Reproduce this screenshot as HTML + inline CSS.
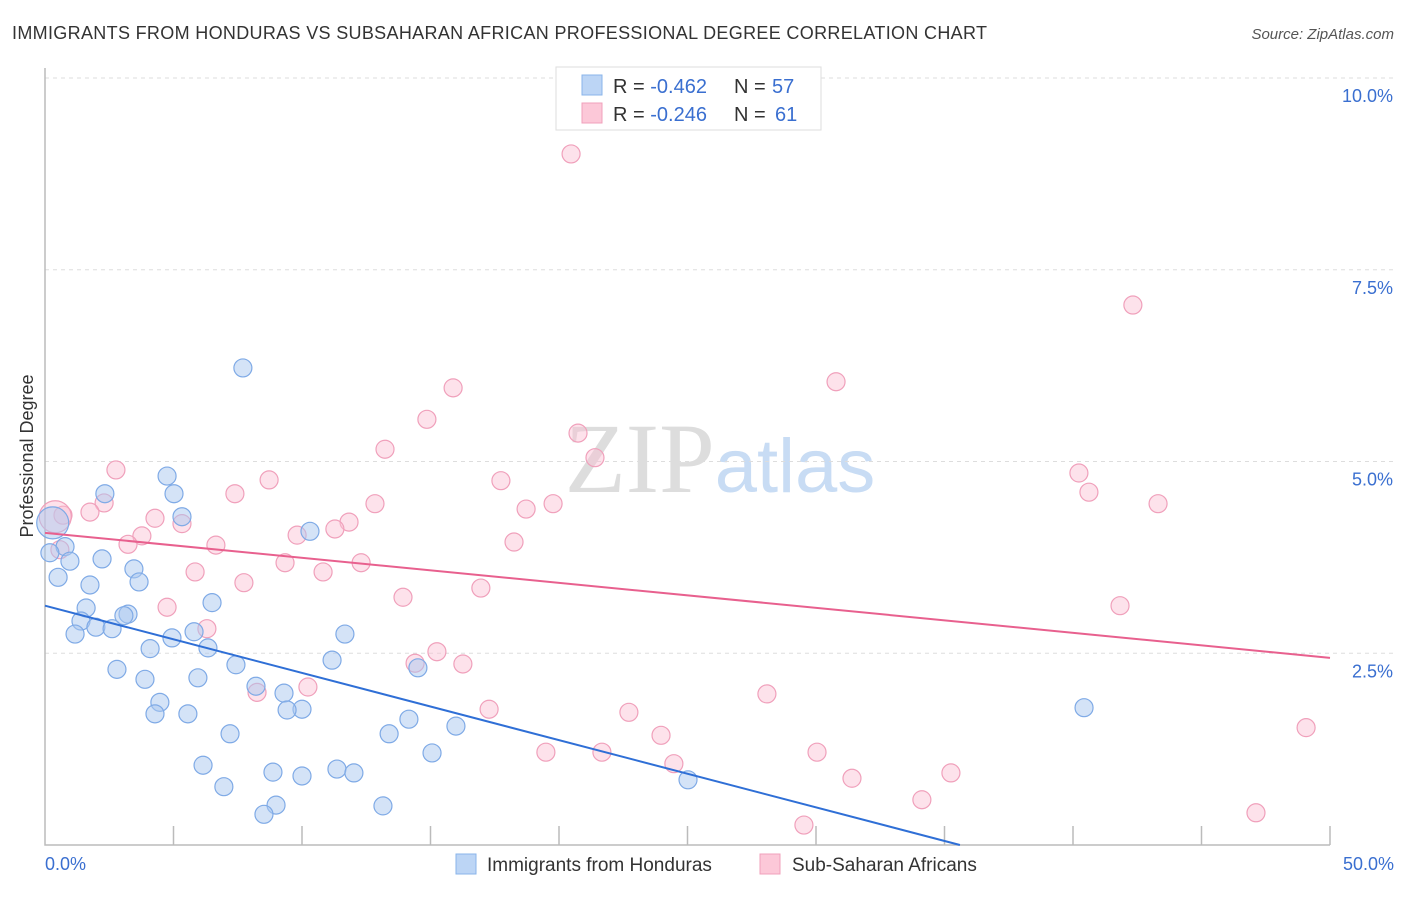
<!DOCTYPE html>
<html><head><meta charset="utf-8"><style>
body{margin:0;background:#fff;font-family:"Liberation Sans",sans-serif;}
svg text{font-family:"Liberation Sans",sans-serif;}
</style></head><body>
<svg id="chart" width="1406" height="892" xmlns="http://www.w3.org/2000/svg">
<text x="12" y="39" font-size="18" fill="#333" textLength="975">IMMIGRANTS FROM HONDURAS VS SUBSAHARAN AFRICAN PROFESSIONAL DEGREE CORRELATION CHART</text>
<text x="1394" y="39" font-size="15" fill="#555" font-style="italic" text-anchor="end">Source: ZipAtlas.com</text>
<text transform="translate(33,456) rotate(-90)" font-size="18" fill="#333" text-anchor="middle">Professional Degree</text>
<text x="720" y="492" font-size="100" text-anchor="middle"><tspan fill="#ddd" font-family="Liberation Serif">ZIP</tspan><tspan fill="#c8dcf4" font-size="76">atlas</tspan></text>
<g id="grid"></g><g id="axes"></g><g id="pink"></g><g id="blue"></g><g id="trends"></g>
<g>
<rect x="556" y="67" width="265" height="63" fill="#fff" stroke="#ddd"/>
<rect x="582" y="75" width="20" height="20" fill="#bcd5f5" stroke="#8ab4ea"/>
<rect x="582" y="103" width="20" height="20" fill="#fcc8d8" stroke="#f0a0bb"/>
<text x="613" y="93" font-size="20" fill="#333">R = <tspan fill="#3a6fd0">-0.462</tspan></text>
<text x="734" y="93" font-size="20" fill="#333">N = </text>
<text x="772" y="93" font-size="20" fill="#3a6fd0">57</text>
<text x="613" y="121" font-size="20" fill="#333">R = <tspan fill="#3a6fd0">-0.246</tspan></text>
<text x="734" y="121" font-size="20" fill="#333">N = </text>
<text x="775" y="121" font-size="20" fill="#3a6fd0">61</text>
</g>
<g>
<rect x="456" y="854" width="20" height="20" fill="#bcd5f5" stroke="#8ab4ea"/>
<text x="487" y="871" font-size="19" fill="#333">Immigrants from Honduras</text>
<rect x="760" y="854" width="20" height="20" fill="#fcc8d8" stroke="#f0a0bb"/>
<text x="792" y="871" font-size="19" fill="#333">Sub-Saharan Africans</text>
</g>
</svg>
<script>
const yTicks=[2.5,5,7.5,10];
const yTickLabels=["2.5%","5.0%","7.5%","10.0%"];
const xTickVals=[0,5,10,15,20,25,30,35,40,45,50];
const blueX=[7.70,4.75,2.33,5.02,5.33,10.31,0.78,0.19,0.97,2.22,3.46,3.66,1.75,0.51,6.50,1.60,3.23,3.07,1.40,1.98,2.61,1.17,5.80,11.67,4.94,6.34,4.09,11.17,7.43,14.51,2.80,3.89,5.95,8.21,9.30,4.47,10.00,9.42,4.28,5.56,14.16,15.99,7.20,13.39,15.06,6.15,11.36,8.87,12.02,10.00,25.02,6.96,8.99,13.15,8.52,40.43,0.30];
const blueY=[6.22,4.81,4.58,4.58,4.28,4.09,3.89,3.81,3.70,3.73,3.60,3.43,3.39,3.49,3.16,3.09,3.01,2.99,2.92,2.84,2.82,2.75,2.78,2.75,2.70,2.57,2.56,2.41,2.35,2.31,2.29,2.16,2.18,2.07,1.98,1.86,1.77,1.76,1.71,1.71,1.64,1.55,1.45,1.45,1.20,1.04,0.99,0.95,0.94,0.90,0.85,0.76,0.52,0.51,0.40,1.79,4.20];
const pinkX=[20.47,42.33,30.78,15.88,14.86,20.74,13.23,21.40,2.76,40.23,8.72,17.74,7.39,2.30,40.62,12.84,19.77,43.31,18.72,1.75,0.70,4.28,11.83,5.33,11.28,9.81,3.77,18.25,3.23,6.65,12.30,9.34,10.82,5.84,7.74,16.96,13.93,4.75,41.83,6.30,15.25,14.40,16.26,10.23,8.25,28.09,17.28,22.72,23.97,49.07,19.49,21.67,30.04,24.47,35.25,31.40,34.12,47.12,29.53,0.58,0.40];
const pinkY=[9.01,7.04,6.04,5.96,5.55,5.37,5.16,5.05,4.89,4.85,4.76,4.75,4.58,4.46,4.60,4.45,4.45,4.45,4.38,4.34,4.30,4.26,4.21,4.19,4.12,4.04,4.03,3.95,3.92,3.91,3.68,3.68,3.56,3.56,3.42,3.35,3.23,3.10,3.12,2.82,2.52,2.37,2.36,2.06,1.99,1.97,1.77,1.73,1.43,1.53,1.21,1.21,1.21,1.06,0.94,0.87,0.59,0.42,0.26,3.85,4.28];
const blueTrend=[[0,3.12],[35.6,0]];
const pinkTrend=[[0,4.07],[50,2.44]];
const NS="http://www.w3.org/2000/svg";
const xs=v=>45+v*25.7, ys=v=>845-v*76.7;
function mk(p,t,a){const e=document.createElementNS(NS,t);for(const k in a)e.setAttribute(k,a[k]);document.getElementById(p).appendChild(e);return e;}
yTicks.forEach((v,i)=>{
 const l=mk('grid','line',{x1:45,x2:1394,y1:ys(v),y2:ys(v),stroke:'#ddd','stroke-dasharray':'4,4'});
 
 
 const t=mk('grid','text',{x:1393,y:ys(v)+24,'font-size':18,fill:'#3a6fd0','text-anchor':'end'});t.textContent=yTickLabels[i];
 
 
});
const ax=mk('axes','path',{d:'M45,68V845H1330',fill:'none',stroke:'#bbb','stroke-width':1.5});


xTickVals.forEach(v=>{if(v===0)return;const t=mk('axes','line',{x1:xs(v),x2:xs(v),y1:826,y2:845,stroke:'#bbb','stroke-width':1.5});
 
 });
const xl0=mk('axes','text',{x:45,y:870,'font-size':18,fill:'#3a6fd0'});xl0.textContent='0.0%';


const xl1=mk('axes','text',{x:1394,y:870,'font-size':18,fill:'#3a6fd0','text-anchor':'end'});xl1.textContent='50.0%';


function pts(g,X,Y,fill,stroke,name){X.forEach((x,i)=>{const big=i===X.length-1;const c=mk(g,'circle',{cx:xs(x),cy:ys(Y[i]),r:big?16:9,fill:fill,stroke:stroke,'stroke-width':1.2});
 
 });}
pts('pink',pinkX,pinkY,'rgba(250,190,210,0.45)','#f0a0bb','point-subsaharan');
pts('blue',blueX,blueY,'rgba(170,200,240,0.5)','#7faae6','point-honduras');
const bt=mk('trends','line',{x1:xs(blueTrend[0][0]),y1:ys(blueTrend[0][1]),x2:xs(blueTrend[1][0]),y2:ys(blueTrend[1][1]),stroke:'#2f6fd6','stroke-width':2});


const pt=mk('trends','line',{x1:xs(pinkTrend[0][0]),y1:ys(pinkTrend[0][1]),x2:xs(pinkTrend[1][0]),y2:ys(pinkTrend[1][1]),stroke:'#e8608e','stroke-width':2});


</script>
</body></html>
